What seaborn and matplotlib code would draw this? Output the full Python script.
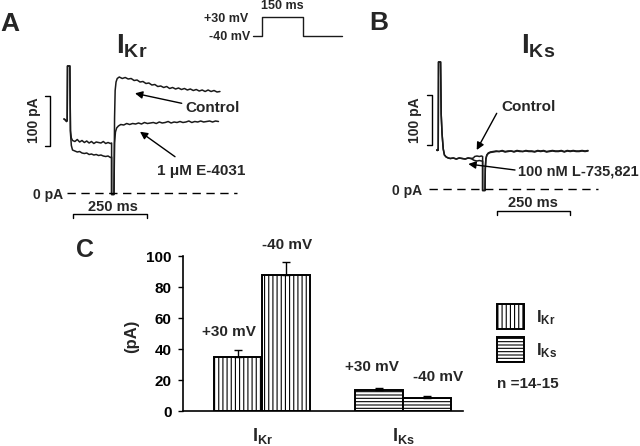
import matplotlib
matplotlib.use('Agg')
import matplotlib.pyplot as plt
import seaborn as sns
import pandas as pd
from matplotlib.patches import Rectangle

# ---------------- data ----------------
# Panel A (I_Kr): time (ms, step onset = 0) and current (pA)
ikr_control_t = [-12, -9, -6, -3, -1, 0, 8, 10, 13, 17,
                 25, 33, 41, 49, 57, 65, 73, 81, 89, 97, 105, 113, 121, 129, 137, 145,
                 149, 149, 157, 159, 161, 164, 168,
                 175, 185, 195, 205, 215, 225, 235, 245, 255, 265, 275, 285, 295, 305, 315,
                 325, 335, 345, 355, 365, 375, 385, 395, 405, 415, 425, 435, 445, 455, 465,
                 475, 485, 495, 505, 515]
ikr_control_pa = [148, 147, 145, 143, 145, 254, 254, 125, 110, 105,
                  103, 107, 102, 105, 101, 104, 100, 103, 99, 102, 101, 100, 103, 99, 101, 99,
                  100, -3, -3, 150, 205, 222, 229,
                  232, 229, 231, 228, 229, 225, 226, 222, 223, 219, 220, 216, 217, 213, 214,
                  211, 213, 209, 211, 208, 210, 207, 209, 206, 208, 205, 207, 204, 206, 203,
                  206, 203, 205, 202, 203]
ikr_e4031_t = [-12, -9, -6, -3, -1, 0, 8, 10, 13, 17,
               25, 33, 41, 49, 57, 65, 73, 81, 89, 97, 105, 113, 121, 129, 137, 145,
               149, 149, 157, 159, 162, 166, 172,
               180, 190, 200, 210, 220, 230, 240, 250, 260, 270, 280, 290, 300, 310, 320,
               330, 340, 350, 360, 370, 380, 390, 400, 410, 420, 430, 440, 450, 460, 470,
               480, 490, 500, 510]
ikr_e4031_pa = [148, 147, 145, 143, 145, 254, 254, 120, 95, 86,
                84, 82, 83, 80, 79, 80, 77, 78, 76, 77, 75, 76, 74, 73, 74, 71,
                72, -3, -3, 100, 122, 130, 134,
                137, 136, 139, 137, 139, 138, 140, 138, 141, 139, 140, 141, 139, 142, 140,
                141, 143, 140, 142, 141, 143, 141, 142, 144, 141, 143, 142, 144, 142, 143,
                144, 142, 144, 143]

# Panel B (I_Ks)
iks_control_t = [-6, -4, -2, -1, 0, 7, 9, 12, 16, 20, 26, 33,
                 40, 50, 60, 70, 80, 90, 100, 110,
                 118, 122, 130, 138, 145, 149,
                 149, 157, 158, 160, 163, 168, 175, 185,
                 195, 205, 215, 225, 235, 245, 255, 265, 275, 285, 295, 305, 315, 325, 335,
                 345, 355, 365, 375, 385, 395, 405, 415, 425, 435, 445, 455, 465, 475, 485,
                 495, 505]
iks_control_pa = [78, 77, 79, 78, 254, 254, 150, 110, 80, 68, 64, 62,
                  61, 62, 60, 62, 61, 60, 62, 61,
                  62, 65, 66, 65, 66, 65,
                  -3, -3, 40, 60, 68, 72, 74, 75,
                  76, 75, 77, 75, 76, 76, 75, 77, 76, 75, 77, 76, 76, 75, 77,
                  76, 77, 75, 76, 77, 76, 76, 77, 75, 77, 76, 77, 76, 76, 77,
                  76, 77]
iks_l735_t = iks_control_t
iks_l735_pa = [78, 77, 79, 78, 254, 254, 150, 110, 80, 68, 64, 62,
               61, 62, 60, 62, 61, 60, 62, 61,
               58, 57, 56, 57, 56, 56,
               -3, -3, 40, 60, 67, 71, 73, 74,
               75, 75, 76, 74, 75, 76, 74, 76, 75, 75, 76, 75, 75, 74, 76,
               75, 76, 74, 75, 76, 75, 75, 76, 74, 76, 75, 76, 75, 75, 76,
               75, 76]

# Voltage protocol (ms, mV)
protocol_t = [-33, 0, 0, 150, 150, 292]
protocol_mv = [-40, -40, 30, 30, -40, -40]

# Panel C bar chart
currents = [r'$\mathrm{I_{Kr}}$', r'$\mathrm{I_{Kr}}$', r'$\mathrm{I_{Ks}}$', r'$\mathrm{I_{Ks}}$']
voltages = ['+30 mV', '-40 mV', '+30 mV', '-40 mV']
mean_pa = [35.0, 87.5, 13.7, 8.5]
sem_pa = [4.2, 8.5, 1.5, 1.3]
y_ticks = [0, 20, 40, 60, 80, 100]

# ---------------- style ----------------
sns.set_theme(style='white')
plt.rcParams['font.family'] = ['Liberation Sans', 'DejaVu Sans']
plt.rcParams['font.weight'] = 'bold'
plt.rcParams['mathtext.fontset'] = 'custom'
plt.rcParams['mathtext.rm'] = 'Liberation Sans:bold'
plt.rcParams['mathtext.it'] = 'Liberation Sans:bold'
plt.rcParams['mathtext.bf'] = 'Liberation Sans:bold'
plt.rcParams['hatch.linewidth'] = 0.8

W, H = 640, 446
fig = plt.figure(figsize=(6.4, 4.46), dpi=100)
fig.patch.set_facecolor('white')


def rect(x0, y0, x1, y1):
    return [x0 / W, 1 - y1 / H, (x1 - x0) / W, (y1 - y0) / H]


def ftext(x, y, s, **kw):
    fig.text(x / W, 1 - y / H, s, **kw)


TRACE = '#1a1a1a'
arrow_kw = dict(arrowstyle='-|>', color='black', lw=1.0, mutation_scale=11,
                shrinkA=0, shrinkB=0)

# ---------------- Panel A ----------------
axA = fig.add_axes(rect(0, 40, 260, 225))
axA.set_xlim(-228.0, 650.3)
axA.set_ylim(-64, 306)
axA.axis('off')
sns.lineplot(x=ikr_control_t, y=ikr_control_pa, sort=False, estimator=None,
             color=TRACE, lw=1.1, ax=axA)
sns.lineplot(x=ikr_e4031_t, y=ikr_e4031_pa, sort=False, estimator=None,
             color=TRACE, lw=1.1, ax=axA)
axA.plot([-2.7, 572.6], [0, 0], ls=(0, (6, 4)), color='black', lw=1.0)
axA.text(-16.2, -4, '0 pA', ha='right', va='center', fontsize=10)
axA.plot([19.6, 19.6, 267.6, 267.6], [-49, -41, -41, -49], color='black', lw=1.0)
axA.text(153.7, -27.4, '250 ms', ha='center', va='center', fontsize=10.5)
axA.plot([-76, -59.1, -59.1, -76], [194, 194, 94, 94], color='black', lw=1.0)
axA.text(-113.9, 146, '100 pA', ha='center', va='center', rotation=90, fontsize=10)
axA.text(397, 170, 'Control', ha='left', va='center', fontsize=11)
axA.annotate('', xy=(228, 199.4), xytext=(385.8, 179.4), arrowprops=arrow_kw)
axA.text(302.4, 44, '1 \u03bcM E-4031', ha='left', va='center', fontsize=11)
axA.annotate('', xy=(244.9, 122.6), xytext=(363.2, 72.6), arrowprops=arrow_kw)

# ---------------- Protocol inset ----------------
axP = fig.add_axes(rect(245, 0, 350, 45))
axP.set_xlim(-62.2, 322.0)
axP.set_ylim(-73.2, 92.6)
axP.axis('off')
sns.lineplot(x=protocol_t, y=protocol_mv, sort=False, estimator=None,
             color=TRACE, lw=1.0, ax=axP)
axP.text(-51.2, 22.6, '+30 mV', ha='right', va='center', fontsize=9)
axP.text(-43.9, -43.7, '-40 mV', ha='right', va='center', fontsize=9)
axP.text(73.2, 70.5, '150 ms', ha='center', va='center', fontsize=9)

# ---------------- Panel B ----------------
axB = fig.add_axes(rect(390, 40, 640, 225))
axB.set_xlim(-163.9, 680.7)
axB.set_ylim(-72, 298)
axB.axis('off')
sns.lineplot(x=iks_control_t, y=iks_control_pa, sort=False, estimator=None,
             color=TRACE, lw=1.1, ax=axB)
sns.lineplot(x=iks_l735_t, y=iks_l735_pa, sort=False, estimator=None,
             color=TRACE, lw=1.1, ax=axB)
axB.plot([-32.1, 538.9], [0, 0], ls=(0, (6, 4)), color='black', lw=1.0)
axB.text(-56.8, -3, '0 pA', ha='right', va='center', fontsize=10)
axB.plot([197.6, 197.6, 444.3, 444.3], [-51, -43, -43, -51], color='black', lw=1.0)
axB.text(319.3, -28, '250 ms', ha='center', va='center', fontsize=10.5)
axB.plot([-39.9, -23, -23, -39.9], [188, 188, 88, 88], color='black', lw=1.0)
axB.text(-79.4, 138, '100 pA', ha='center', va='center', rotation=90, fontsize=10)
axB.text(213.5, 164.6, 'Control', ha='left', va='center', fontsize=11)
axB.annotate('', xy=(129, 78), xytext=(196.6, 151.4), arrowprops=arrow_kw)
axB.text(269.6, 34.6, '100 nM L-735,821', ha='left', va='center', fontsize=10.5)
axB.annotate('', xy=(100.7, 50), xytext=(258.4, 38), arrowprops=arrow_kw)

# ---------------- Panel labels & titles ----------------
ftext(10, 24, 'A', ha='center', va='center', fontsize=19)
ftext(379, 23, 'B', ha='center', va='center', fontsize=19)
ftext(85, 250, 'C', ha='center', va='center', fontsize=18)
ftext(131.7, 53.3, r'$\mathrm{I_{Kr}}$', ha='center', va='baseline', fontsize=20)
ftext(538, 53.3, r'$\mathrm{I_{Ks}}$', ha='center', va='baseline', fontsize=20)

# ---------------- Panel C ----------------
axC = fig.add_axes(rect(183.3, 256, 463, 411.2))
df = pd.DataFrame({'current': currents, 'voltage': voltages, 'pA': mean_pa})
sns.barplot(data=df, x='current', y='pA', hue='voltage', palette=['white', 'white'],
            edgecolor='black', linewidth=1.4, width=0.68, errorbar=None,
            legend=False, saturation=1, ax=axC)
err_lookup = {(c, v): e for c, v, e in zip(currents, voltages, sem_pa)}
cat_order = list(dict.fromkeys(currents))
hue_order = list(dict.fromkeys(voltages))
for p in axC.patches:
    cx = p.get_x() + p.get_width() / 2
    ci = int(round(cx))
    hi = 0 if cx < ci else 1
    p.set_hatch('||||' if ci == 0 else '-----')
    err = err_lookup[(cat_order[ci], hue_order[hi])]
    axC.errorbar(cx, p.get_height(), yerr=[[0], [err]], fmt='none', ecolor='black',
                 elinewidth=1.0, capsize=2.6, capthick=1.0, zorder=1)
axC.set_xlim(-0.560, 1.423)
axC.set_ylim(0, 100)
axC.set_yticks(y_ticks)
axC.set_yticklabels([str(v) for v in y_ticks], fontsize=11, fontweight='bold')
axC.tick_params(axis='y', left=True, length=3.5, width=1.0, pad=5, colors='black')
axC.tick_params(axis='x', bottom=False, length=0, pad=11, labelsize=13)
axC.set_xlabel('')
axC.set_ylabel('')
for s in ['top', 'right']:
    axC.spines[s].set_visible(False)
for s in ['left', 'bottom']:
    axC.spines[s].set_color('black')
    axC.spines[s].set_linewidth(1.2)
axC.set_facecolor('white')
axC.text(-0.236, 51.2, '+30 mV', ha='center', va='center', fontsize=11, clip_on=False)
axC.text(0.173, 107, '-40 mV', ha='center', va='center', fontsize=11, clip_on=False)
axC.text(0.78, 28.7, '+30 mV', ha='center', va='center', fontsize=11, clip_on=False)
axC.text(1.246, 22.2, '-40 mV', ha='center', va='center', fontsize=11, clip_on=False)
ftext(131.7, 336.7, '(pA)', ha='center', va='center', rotation=90, fontsize=12)

# legend
leg_hatches = ['||||', '-----']
leg_labels = [r'$\mathrm{I_{Kr}}$', r'$\mathrm{I_{Ks}}$']
leg_tops = [304, 336.7]
for hatch, lab, top in zip(leg_hatches, leg_labels, leg_tops):
    r = Rectangle((497.3 / W, 1 - (top + 25.3) / H), 27 / W, 25.3 / H,
                  transform=fig.transFigure, facecolor='white', edgecolor='black',
                  linewidth=1.4, hatch=hatch)
    fig.add_artist(r)
    ftext(535.7, top + 14, lab, ha='left', va='center', fontsize=12)
ftext(497.3, 384, 'n =14-15', ha='left', va='center', fontsize=11)

fig.savefig('out.png', dpi=100, facecolor='white')
